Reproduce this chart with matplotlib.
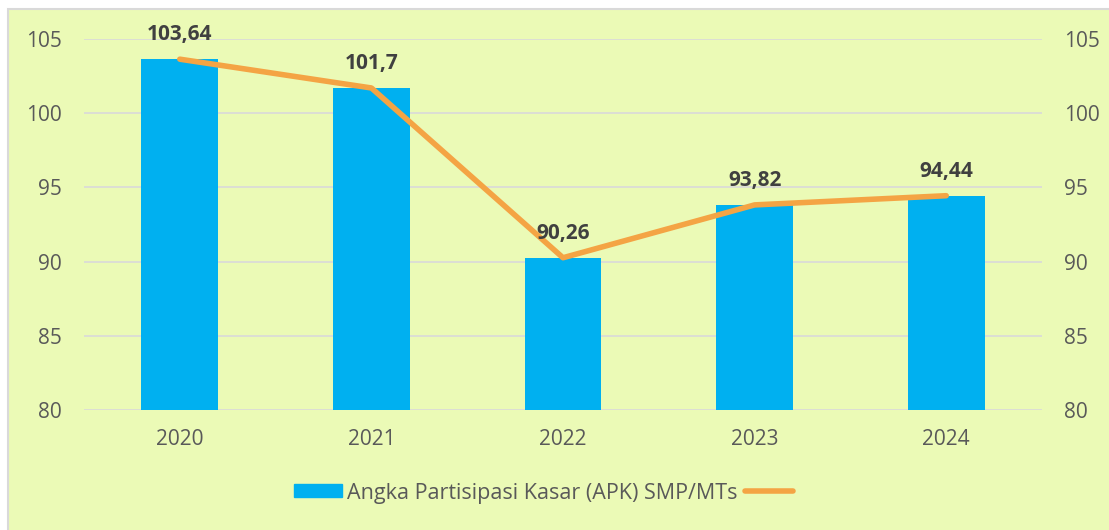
import matplotlib.pyplot as plt
from matplotlib.patches import Rectangle
from matplotlib.lines import Line2D

years = ['2020', '2021', '2022', '2023', '2024']
apk = [103.64, 101.7, 90.26, 93.82, 94.44]
labels = ['103,64', '101,7', '90,26', '93,82', '94,44']
yticks = [80, 85, 90, 95, 100, 105]

bg = '#EBFAB6'
bar_color = '#00B0F0'
line_color = '#F4A444'
text_color = '#595959'

plt.rcParams['font.family'] = ['Open Sans', 'DejaVu Sans']

fig = plt.figure(figsize=(11.09, 5.30), dpi=100)
fig.patch.set_facecolor('white')
# chart frame
fig.patches.append(Rectangle((8 / 1109, -0.01), 1.02, 1 - 9 / 530 + 0.01,
                             transform=fig.transFigure, facecolor=bg,
                             edgecolor='#D9D9D9', linewidth=1.5, zorder=-10))

ax = fig.add_axes([84 / 1109, 1 - 410 / 530, 958 / 1109, 371 / 530])
ax.set_facecolor('none')
x = list(range(len(years)))
ax.bar(x, apk, width=0.4, bottom=0, color=bar_color, zorder=2)
ax.plot(x, apk, color=line_color, linewidth=4, solid_capstyle='round', zorder=3)

for xi, v, lab in zip(x, apk, labels):
    ax.annotate(lab, (xi, v), xytext=(0, 17.5), textcoords='offset points',
                ha='center', va='center', fontsize=15, fontweight='bold',
                color='#404040', zorder=4)

ax.set_xlim(-0.5, len(years) - 0.5)
ax.set_ylim(80, 105)
ax.set_yticks(yticks)
ax.set_xticks(x)
ax.set_xticklabels(years)
ax.grid(axis='y', color='#D9D9D9', linewidth=1.2, zorder=0)
ax.set_axisbelow(True)
for s in ax.spines.values():
    s.set_visible(False)
ax.tick_params(length=0, labelsize=15, colors=text_color, pad=16)
ax.tick_params(axis='x', pad=14)

ax2 = ax.twinx()
ax2.set_ylim(80, 105)
ax2.set_yticks(yticks)
for s in ax2.spines.values():
    s.set_visible(False)
ax2.tick_params(length=0, labelsize=15, colors=text_color, pad=16)

handles = [Rectangle((0, 0), 1, 1, color=bar_color),
           Line2D([], [], color=line_color, linewidth=4, solid_capstyle='round')]
fig.legend(handles, ['Angka Partisipasi Kasar (APK) SMP/MTs', ' '],
           loc='center', bbox_to_anchor=(0.495, 1 - 493 / 530), ncol=2,
           frameon=False, fontsize=15.5, labelcolor=text_color,
           handlelength=2.2, handleheight=0.55, handletextpad=0.25,
           columnspacing=0.35)

fig.savefig('out.png', dpi=100, facecolor=fig.get_facecolor())
